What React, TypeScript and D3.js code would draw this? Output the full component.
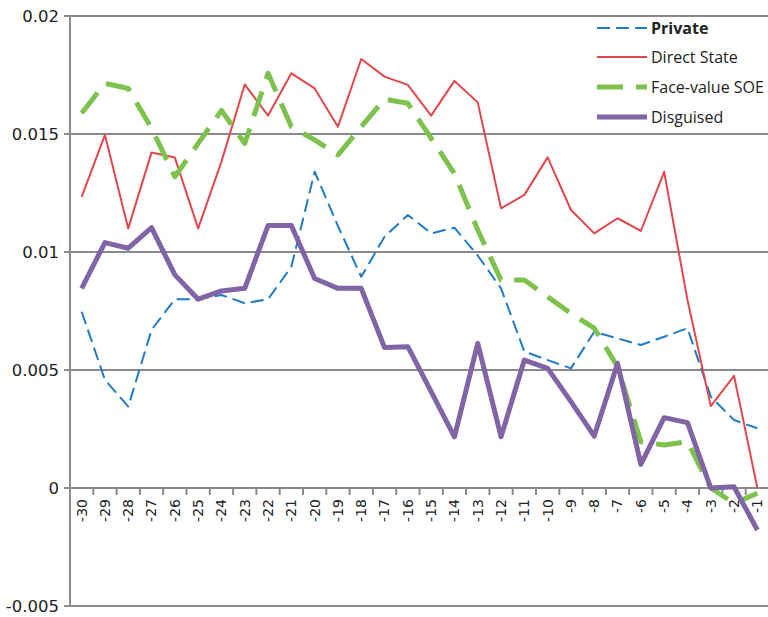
import React from "react";
import * as d3 from "d3";

const categories = ["-30","-29","-28","-27","-26","-25","-24","-23","-22","-21","-20","-19","-18","-17","-16","-15","-14","-13","-12","-11","-10","-9","-8","-7","-6","-5","-4","-3","-2","-1"];
const yTicks = [-0.005, 0, 0.005, 0.01, 0.015, 0.02];
const yTickLabels = ["-0.005", "0", "0.005", "0.01", "0.015", "0.02"];

const privateVals = [0.00747,0.00458,0.00345,0.0067,0.008,0.008,0.00818,0.00783,0.008,0.00938,0.0134,0.0111,0.00895,0.01065,0.01157,0.01079,0.01103,0.00985,0.00846,0.00578,0.00542,0.00507,0.00662,0.00634,0.00606,0.00641,0.00677,0.00387,0.00288,0.00253];
const directStateVals = [0.01234,0.01496,0.011,0.01422,0.014,0.011,0.01383,0.0171,0.01578,0.01757,0.01693,0.01531,0.01818,0.01743,0.01708,0.01578,0.01725,0.01634,0.01185,0.01242,0.01401,0.01178,0.01079,0.01143,0.01089,0.0134,0.00797,0.00347,0.00475,0.0];
const faceValueSOEVals = [0.01588,0.01715,0.01693,0.01524,0.01319,0.0146,0.016,0.0146,0.01757,0.01531,0.01475,0.01411,0.01531,0.01648,0.0163,0.01482,0.01333,0.01093,0.00881,0.00881,0.0081,0.0074,0.00677,0.00514,0.00196,0.00182,0.00196,0.0,-0.00065,-0.00022];
const disguisedVals = [0.00846,0.0104,0.01016,0.01103,0.00903,0.008,0.00835,0.00846,0.01112,0.01112,0.00888,0.00846,0.00846,0.00595,0.00599,0.00408,0.00217,0.00613,0.00217,0.00542,0.00507,0.00366,0.0022,0.00528,0.001,0.00298,0.00277,0.0,0.00005,-0.00178];

const seriesNames = ["Private", "Direct State", "Face-value SOE", "Disguised"];

export default function App() {
  const W = 768, H = 617;
  const x = d3.scaleBand<string>().domain(categories).range([70, 769]);
  const y = d3.scaleLinear().domain([-0.005, 0.02]).range([606, 16]);
  const cx = (c: string) => (x(c) as number) + x.bandwidth() / 2;

  const series = [
    { name: seriesNames[0], values: privateVals, color: "#1F7BC6", width: 2, dash: "13,6", bold: true },
    { name: seriesNames[1], values: directStateVals, color: "#E2474B", width: 2, dash: "", bold: false },
    { name: seriesNames[2], values: faceValueSOEVals, color: "#7DC24C", width: 5, dash: "26,13", bold: false },
    { name: seriesNames[3], values: disguisedVals, color: "#8064A6", width: 5, dash: "", bold: false },
  ];

  const line = d3.line<number>().x((_, i) => cx(categories[i])).y((v) => y(v));
  const gridColor = "#8A8A8E";
  const legendY = [28, 57, 87, 117];

  return (
    <svg width={W} height={H} style={{ position: "absolute", left: 0, top: 0, background: "#fff" }}>
      {yTicks.map((t, i) => (
        <g key={"g" + i}>
          <line x1={64} x2={W} y1={y(t)} y2={y(t)} stroke={gridColor} strokeWidth={2} />
          <text x={59} y={y(t)} dy="0.35em" textAnchor="end" fontFamily="DejaVu Sans" fontSize={16.5} fill="#222">
            {yTickLabels[i]}
          </text>
        </g>
      ))}
      <line x1={70} x2={70} y1={y(0.02)} y2={y(-0.005)} stroke={gridColor} strokeWidth={2} />
      {categories.map((c, i) => (
        <line key={"t" + i} x1={(x(c) as number) + x.bandwidth()} x2={(x(c) as number) + x.bandwidth()} y1={y(0)} y2={y(0) + 7} stroke={gridColor} strokeWidth={2} />
      ))}
      {categories.map((c, i) => (
        <text key={"xl" + i} transform={`translate(${cx(c)},${y(0) + 11}) rotate(-90)`} dy="0.35em" textAnchor="end" fontFamily="DejaVu Sans" fontSize={14} fill="#222">
          {c}
        </text>
      ))}
      {series.map((s, i) => (
        <path key={"s" + i} d={line(s.values) as string} fill="none" stroke={s.color} strokeWidth={s.width} strokeDasharray={s.dash || undefined} strokeLinejoin="round" />
      ))}
      {series.map((s, i) => (
        <g key={"l" + i}>
          <line x1={597} x2={647} y1={legendY[i]} y2={legendY[i]} stroke={s.color} strokeWidth={s.width} strokeDasharray={s.dash || undefined} />
          <text x={651} y={legendY[i]} dy="0.35em" fontFamily="Open Sans" fontSize={16} fontWeight={s.bold ? "bold" : "normal"} fill="#222">
            {s.name}
          </text>
        </g>
      ))}
    </svg>
  );
}
